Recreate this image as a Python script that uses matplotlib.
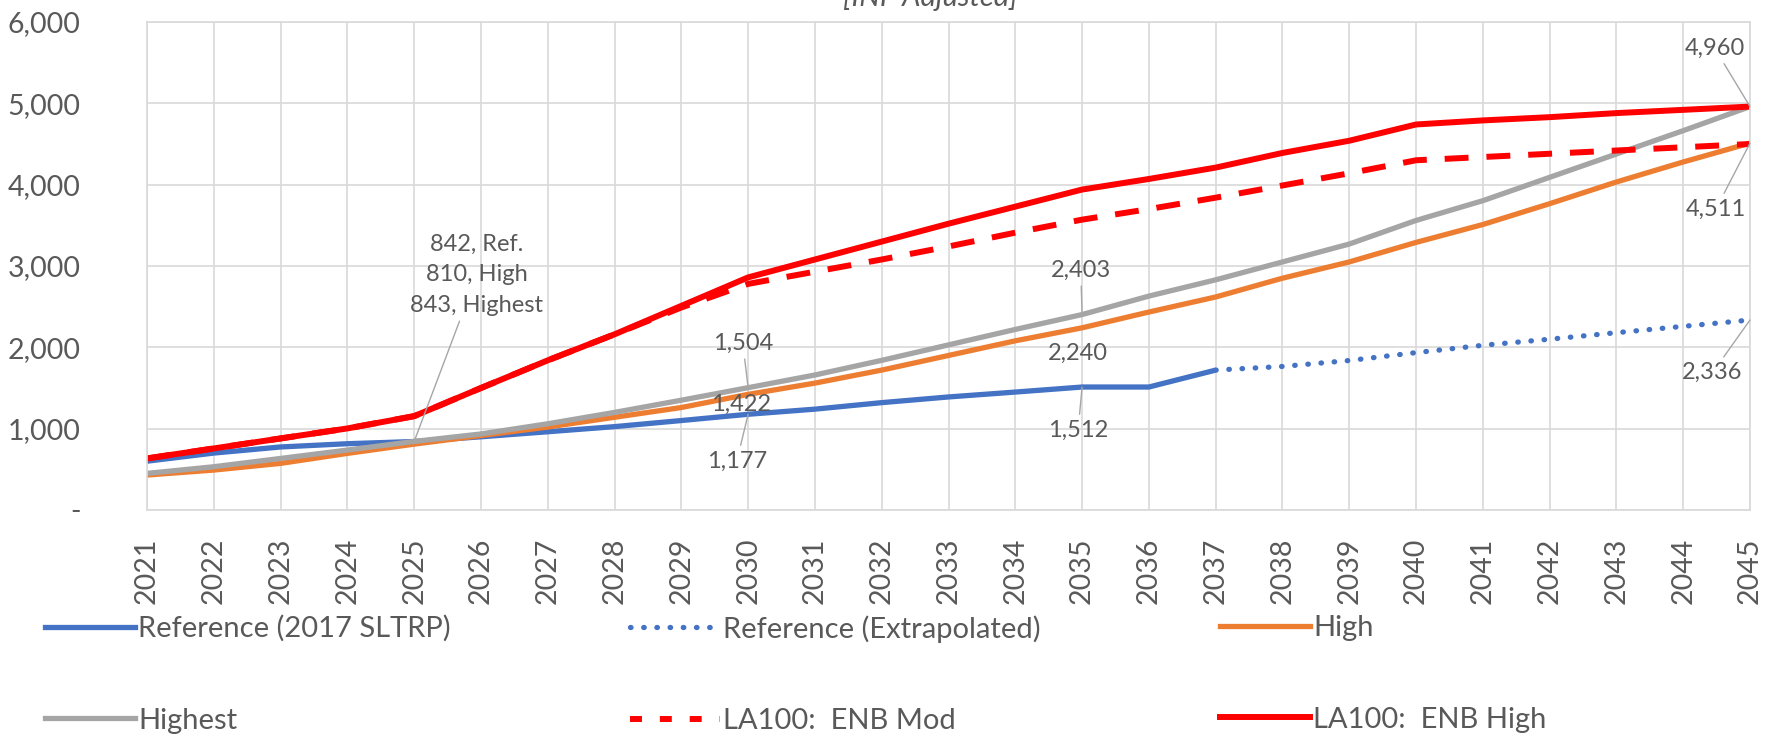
import matplotlib.pyplot as plt
from matplotlib.ticker import FuncFormatter, MultipleLocator
from matplotlib.lines import Line2D

plt.rcParams['font.family'] = ['Lato', 'DejaVu Sans']

# yearly series
years = list(range(2021, 2046))
ref_years = list(range(2021, 2038))
ext_years = list(range(2037, 2046))

ref_sltrp = [600, 700, 775, 815, 842, 900, 962, 1025, 1100, 1177, 1240, 1320,
             1390, 1450, 1512, 1512, 1720]
ref_extrap = [1720, 1765, 1838, 1935, 2025, 2100, 2180, 2258, 2336]
high = [430, 491, 573, 696, 810, 915, 1020, 1140, 1260, 1422, 1560, 1720, 1900,
        2080, 2240, 2434, 2619, 2850, 3050, 3290, 3510, 3766, 4033, 4279, 4511]
highest = [450, 532, 634, 737, 843, 935, 1060, 1200, 1350, 1504, 1660, 1840, 2030,
           2220, 2403, 2630, 2830, 3050, 3270, 3560, 3803, 4090, 4377, 4664, 4960]
enb_mod = [634, 757, 880, 1003, 1154, 1500, 1840, 2160, 2490, 2780, 2930, 3080, 3240,
           3410, 3570, 3700, 3840, 3990, 4140, 4300, 4340, 4380, 4420, 4460, 4500]
enb_high = [634, 757, 880, 1003, 1154, 1500, 1840, 2160, 2510, 2860, 3080, 3300, 3520,
            3730, 3940, 4070, 4210, 4390, 4540, 4740, 4790, 4830, 4880, 4920, 4960]

BLUE = '#4472C4'
ORANGE = '#ED7D31'
GRAY = '#A5A5A5'
RED = '#FF0000'
TXT = '#595959'
GRID = '#D9D9D9'

fig = plt.figure(figsize=(17.79, 7.40), dpi=100)
ax = fig.add_axes([147 / 1779, 1 - 510 / 740, (1750 - 147) / 1779, (510 - 22) / 740])

lw = 3.8
red_lw = 4.3
dotted = (0, (0.1, 2.4))
ax.plot(ref_years, ref_sltrp, color=BLUE, lw=lw, solid_capstyle='butt')
ax.plot(ext_years, ref_extrap, color=BLUE, lw=lw, linestyle=dotted, dash_capstyle='round')
ax.plot(years, high, color=ORANGE, lw=lw)
ax.plot(years, highest, color=GRAY, lw=lw)
ax.plot(years, enb_high, color=RED, lw=red_lw)
ax.plot(years, enb_mod, color=RED, lw=red_lw, linestyle=(0, (4, 3)))

ax.set_xlim(2021, 2045)
ax.set_ylim(0, 6000)
ax.yaxis.set_major_locator(MultipleLocator(1000))
ax.yaxis.set_major_formatter(FuncFormatter(lambda v, p: '-' if v == 0 else f'{v:,.0f}'))
ax.set_xticks(years)
ax.set_xticklabels([str(y) for y in years], rotation=90)
ax.tick_params(axis='y', length=0, pad=48, labelsize=20.5, labelcolor=TXT)
ax.tick_params(axis='x', length=0, pad=20, labelsize=20.5, labelcolor=TXT)
ax.grid(True, color=GRID, lw=1.2)
ax.set_axisbelow(True)
for s in ax.spines.values():
    s.set_color(GRID)
    s.set_linewidth(1.2)

fig.text(930 / 1779, 1 - 6 / 740, '[INF Adjusted]', ha='center', va='baseline',
         fontsize=21, style='italic', color=TXT)

# data labels with leader lines
def label(text, x, y, tx, ty, leader=True):
    props = dict(arrowstyle='-', color='#A6A6A6', lw=1.0, shrinkA=2, shrinkB=0) if leader else None
    ax.annotate(text, xy=(x, y), xytext=(tx, ty), ha='center', va='center',
                fontsize=17, color=TXT, linespacing=1.55, arrowprops=props,
                annotation_clip=False)

i25, i30, i35 = 2025 - 2021, 2030 - 2021, 2035 - 2021
label(f'{ref_sltrp[i25]:,}, Ref.\n{high[i25]:,}, High\n{highest[i25]:,}, Highest',
      2025, highest[i25], 2025.94, 2890)
label(f'{highest[i30]:,}', 2030, highest[i30], 2029.92, 2053)
label(f'{high[i30]:,}', 2030, high[i30], 2029.9, 1300, leader=False)
label(f'{ref_sltrp[i30]:,}', 2030, ref_sltrp[i30], 2029.83, 600)
label(f'{highest[i35]:,}', 2035, highest[i35], 2034.98, 2950)
label(f'{high[i35]:,}', 2035, high[i35], 2034.94, 1930, leader=False)
label(f'{ref_sltrp[i35]:,}', 2035, ref_sltrp[i35], 2034.94, 980)
label(f'{highest[-1]:,}', 2045, highest[-1], 2044.47, 5680)
label(f'{high[-1]:,}', 2045, high[-1], 2044.49, 3700)
label(f'{ref_extrap[-1]:,}', 2045, ref_extrap[-1], 2044.44, 1690)

# legend, three columns placed separately
h = {
    'ref': Line2D([], [], color=BLUE, lw=lw),
    'ext': Line2D([], [], color=BLUE, lw=lw, linestyle=dotted, dash_capstyle='round'),
    'high': Line2D([], [], color=ORANGE, lw=lw),
    'highest': Line2D([], [], color=GRAY, lw=lw),
    'mod': Line2D([], [], color=RED, lw=red_lw, linestyle=(0, (2, 3))),
    'enb': Line2D([], [], color=RED, lw=red_lw),
}
columns = [
    (45, [h['ref'], h['highest']], ['Reference (2017 SLTRP)', 'Highest']),
    (630, [h['ext'], h['mod']], ['Reference (Extrapolated)', 'LA100:  ENB Mod']),
    (1220, [h['high'], h['enb']], ['High', 'LA100:  ENB High']),
]
for x0, hs, ls in columns:
    leg = fig.legend(hs, ls, loc='upper left', bbox_to_anchor=(x0 / 1779, 1 - 615 / 740),
                     frameon=False, fontsize=21, handlelength=3.1, handletextpad=0.1,
                     labelspacing=2.25, borderpad=0, borderaxespad=0)
    for t in leg.get_texts():
        t.set_color(TXT)

fig.savefig('out.png', dpi=100)
